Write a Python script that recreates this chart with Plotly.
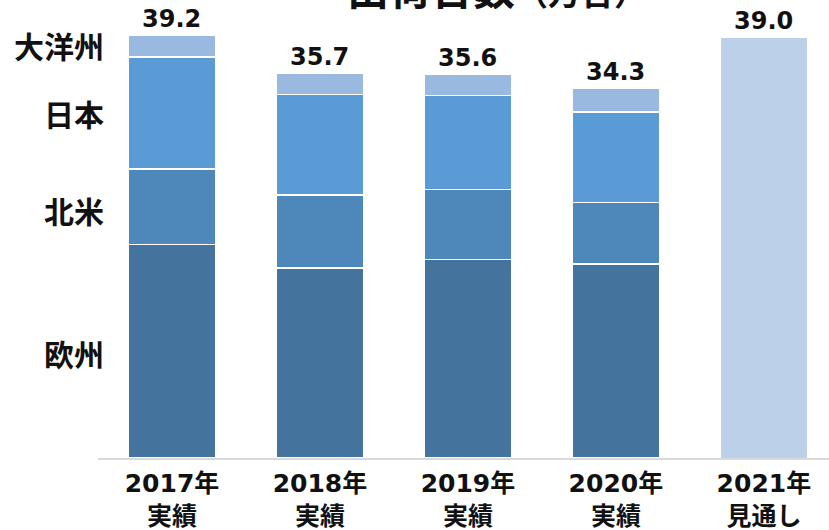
import plotly.graph_objects as go

categories = ["2017年<br>実績", "2018年<br>実績", "2019年<br>実績", "2020年<br>実績", "2021年<br>見通し"]
europe = [19.8, 17.6, 18.4, 18.0, None]
north_america = [7.0, 6.8, 6.5, 5.7, None]
japan = [10.4, 9.3, 8.7, 8.4, None]
oceania = [2.0, 2.0, 2.0, 2.2, None]
forecast = [None, None, None, None, 39.0]
totals = [39.2, 35.7, 35.6, 34.3, 39.0]
total_labels = ["39.2", "35.7", "35.6", "34.3", "39.0"]
region_names = ["欧州", "北米", "日本", "大洋州"]
region_label_y = [9.7, 23.0, 32.0, 38.3]

x = list(range(len(categories)))
colors = ["#44739e", "#4e87ba", "#5b9bd5", "#9ab9e0"]

fig = go.Figure()
for name, vals, c in zip(region_names, [europe, north_america, japan, oceania], colors):
    fig.add_bar(x=x, y=vals, name=name, marker=dict(color=c, line=dict(color="white", width=1.5)),
                width=0.59)
fig.add_bar(x=x, y=forecast, name="見通し", marker=dict(color="#bdd0e9", line=dict(color="white", width=1)),
            width=0.59)

for xi, t, lab in zip(x, totals, total_labels):
    fig.add_annotation(x=xi, y=t, text=f"<b>{lab}</b>", showarrow=False, yanchor="bottom", yshift=0,
                       font=dict(family="DejaVu Sans", size=24, color="#111"))

for name, yy in zip(region_names, region_label_y):
    fig.add_annotation(x=-0.5, y=yy, xref="x", yref="y", text=f"<b>{name}</b>", showarrow=False,
                       xanchor="right", xshift=8, font=dict(family="Noto Sans CJK JP", size=30, color="#111"))

fig.add_annotation(xref="paper", yref="paper", x=(497 - 98) / 731, y=1, xanchor="center", yanchor="bottom", yshift=-14,
                   text="<b>出荷台数</b><b><span style='font-size:33px'>（万台）</span></b>", showarrow=False,
                   font=dict(family="Noto Sans CJK JP", size=42, color="#111"))

fig.update_layout(
    barmode="stack",
    width=829, height=530,
    margin=dict(l=98, r=0, t=5, b=72),
    plot_bgcolor="white", paper_bgcolor="white",
    showlegend=False,
    xaxis=dict(range=[-0.5, 4.44], tickvals=x, automargin=False,
               ticktext=[f"<b>{c.split('<br>')[0]}</b><br><b>{c.split('<br>')[1]}</b>" for c in categories],
               showline=True, linecolor="#d9d9d9", linewidth=2, showgrid=False, ticks="",
               ticklabelstandoff=2,
               tickfont=dict(family="DejaVu Sans, Noto Sans CJK JP", size=25, color="#111")),
    yaxis=dict(range=[0, 42], visible=False, showgrid=False, automargin=False),
)

fig.write_html("out.html")
